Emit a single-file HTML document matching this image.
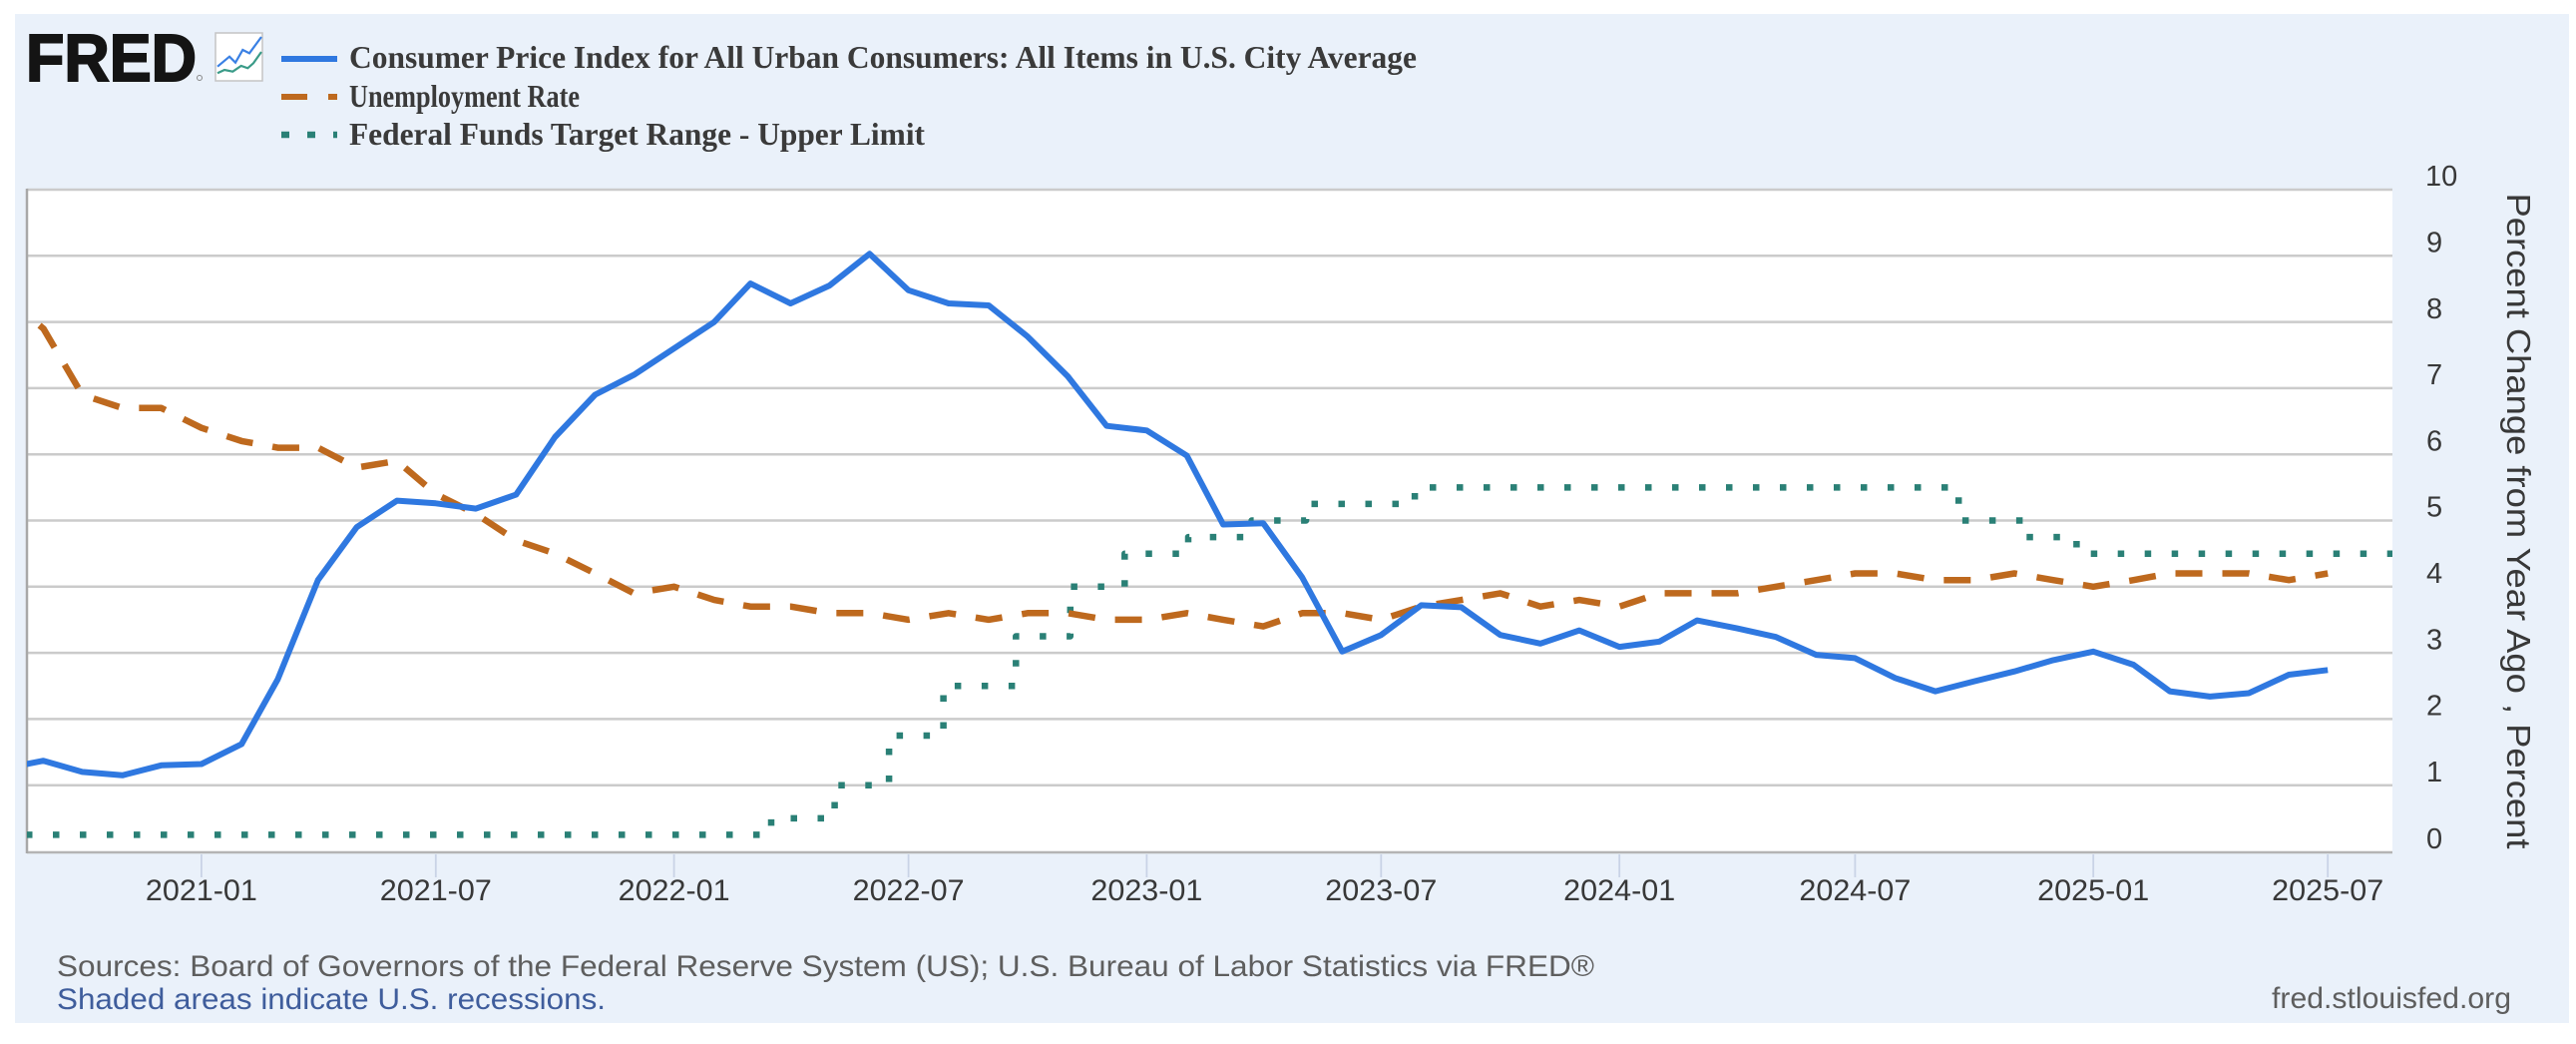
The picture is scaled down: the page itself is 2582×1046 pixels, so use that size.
<!DOCTYPE html>
<html>
<head>
<meta charset="utf-8">
<style>
  html, body { margin: 0; padding: 0; background: #ffffff; }
  body { width: 2582px; height: 1046px; overflow: hidden; }
  svg { display: block; }
</style>
</head>
<body>
<svg width="2582" height="1046" viewBox="0 0 2582 1046" xmlns="http://www.w3.org/2000/svg">
  <defs>
    <clipPath id="plotclip">
      <rect x="27" y="189" width="2371" height="666"/>
    </clipPath>
  </defs>

  <!-- background panel -->
  <rect x="15" y="14" width="2560" height="1011" fill="#eaf1fa"/>

  <!-- FRED logo -->
  <text x="26" y="81" font-family="Liberation Sans, sans-serif" font-weight="bold" font-size="67" fill="#141414" stroke="#141414" stroke-width="2" textLength="171" lengthAdjust="spacingAndGlyphs">FRED</text>
  <circle cx="200" cy="78" r="2.5" fill="none" stroke="#888" stroke-width="1"/>
  <!-- chart icon -->
  <rect x="216" y="33" width="47" height="48" fill="#ffffff" stroke="#c4c4c4" stroke-width="1.5"/>
  <polyline points="218,66.7 230,56.7 236,62.7 243.3,50 250,53.3 262,37" fill="none" stroke="#3a80e4" stroke-width="2.2"/>
  <polyline points="218,73.3 225,70 233.3,71.7 241.7,66 248.3,68.3 254,63.3 262,52" fill="none" stroke="#3a9b88" stroke-width="2.2"/>

  <!-- legend -->
  <line x1="282" y1="59" x2="338" y2="59" stroke="#2f78e0" stroke-width="6"/>
  <line x1="282" y1="97" x2="338" y2="97" stroke="#be691e" stroke-width="6" stroke-dasharray="26 21"/>
  <line x1="282" y1="135" x2="338" y2="135" stroke="#2a8076" stroke-width="6.5" stroke-dasharray="8 18"/>
  <g font-family="Liberation Serif, serif" font-weight="bold" font-size="32" fill="#3a3a3a">
    <text x="350" y="68" textLength="1070" lengthAdjust="spacingAndGlyphs">Consumer Price Index for All Urban Consumers: All Items in U.S. City Average</text>
    <text x="350" y="107" textLength="231" lengthAdjust="spacingAndGlyphs">Unemployment Rate</text>
    <text x="350" y="145" textLength="577" lengthAdjust="spacingAndGlyphs">Federal Funds Target Range - Upper Limit</text>
  </g>

  <!-- plot area -->
  <rect x="27" y="189" width="2371" height="666" fill="#ffffff"/>

  <!-- gridlines -->
  <g stroke="#cbcbcb" stroke-width="2.5">
    <line x1="27" y1="190" x2="2398" y2="190"/>
    <line x1="27" y1="256.3" x2="2398" y2="256.3"/>
    <line x1="27" y1="322.6" x2="2398" y2="322.6"/>
    <line x1="27" y1="388.9" x2="2398" y2="388.9"/>
    <line x1="27" y1="455.2" x2="2398" y2="455.2"/>
    <line x1="27" y1="521.5" x2="2398" y2="521.5"/>
    <line x1="27" y1="587.8" x2="2398" y2="587.8"/>
    <line x1="27" y1="654.1" x2="2398" y2="654.1"/>
    <line x1="27" y1="720.4" x2="2398" y2="720.4"/>
    <line x1="27" y1="786.7" x2="2398" y2="786.7"/>
  </g>
  <!-- axis lines -->
  <line x1="27" y1="854" x2="2398" y2="854" stroke="#b4b4b4" stroke-width="2.5"/>
  <line x1="27" y1="189" x2="27" y2="855" stroke="#a8a8a8" stroke-width="2.5"/>

  <!-- series -->
  <g clip-path="url(#plotclip)" fill="none" stroke-linejoin="round">
    <!-- Federal funds upper limit (dotted) -->
    <path d="M26,836.4 H773 V819.9 H836.6 V786.7 H891.1 V737 H945.6 V687.3 H1018.3 V637.5 H1072.8 V587.8 H1127.3 V554.7 H1191 V538.1 H1254.6 V521.5 H1309.1 V504.9 H1418.1 V488.4 H1963.2 V521.5 H2028.1 V538.1 H2081.4 V554.7 H2400"
      stroke="#2a8076" stroke-width="6.5" stroke-dasharray="6.5 20.5"/>
    <!-- Unemployment (dashed) -->
    <path d="M3.3,296.1 L43.5,329.2 L82.4,395.5 L122.7,408.8 L161.6,408.8 L201.9,428.7 L242.1,441.9 L278.4,448.6 L318.7,448.6 L357.6,468.5 L397.9,461.8 L436.8,495 L477,514.9 L517.3,541.4 L556.2,554.6 L596.5,574.5 L635.4,594.4 L675.6,587.8 L715.9,601.1 L752.2,607.7 L792.4,607.7 L831.4,614.3 L871.6,614.3 L910.6,620.9 L950.8,614.3 L991,620.9 L1030,614.3 L1070.2,614.3 L1109.2,620.9 L1149.4,620.9 L1189.6,614.3 L1226,620.9 L1266.2,627.6 L1305.2,614.3 L1345.4,614.3 L1384.3,620.9 L1424.6,607.7 L1464.8,601.1 L1503.8,594.4 L1544,607.7 L1583,601.1 L1623.2,607.7 L1663.4,594.4 L1701,594.4 L1741.3,594.4 L1780.2,587.8 L1820.5,581.2 L1859.4,574.5 L1899.6,574.5 L1939.9,581.2 L1978.8,581.2 L2019.1,574.5 L2058,581.2 L2098.2,587.8 L2138.5,581.2 L2174.8,574.5 L2215.1,574.5 L2254,574.5 L2294.2,581.2 L2333.2,574.5"
      stroke="#be691e" stroke-width="6.5" stroke-dasharray="27 20"/>
    <!-- CPI (solid) -->
    <path d="M3.3,770.1 L43.5,762.2 L82.4,773.4 L122.7,776.8 L161.6,766.8 L201.9,765.5 L242.1,745.6 L278.4,680.6 L318.7,581.2 L357.6,528.1 L397.9,501.6 L436.8,504.3 L477,509.6 L517.3,495.6 L556.2,438 L596.5,395.5 L635.4,375.6 L675.6,349.1 L715.9,322.6 L752.2,284.1 L792.4,304 L831.4,286.1 L871.6,254.3 L910.6,290.8 L950.8,304 L991,306 L1030,337.2 L1070.2,377 L1109.2,426.7 L1149.4,431.3 L1189.6,456.5 L1226,525.5 L1266.2,524.2 L1305.2,578.5 L1345.4,652.8 L1384.3,636.2 L1424.6,606.4 L1464.8,608.4 L1503.8,636.2 L1544,644.8 L1583,631.6 L1623.2,648.1 L1663.4,642.8 L1701,621.6 L1741.3,629.6 L1780.2,638.2 L1820.5,656.1 L1859.4,659.4 L1899.6,679.3 L1939.9,692.6 L1978.8,682.6 L2019.1,672.7 L2058,661.4 L2098.2,652.8 L2138.5,666 L2174.8,692.6 L2215.1,697.9 L2254,694.5 L2294.2,676 L2333.2,671.3"
      stroke="#2f78e0" stroke-width="6"/>
  </g>

  <!-- x ticks -->
  <g stroke="#c9d3e6" stroke-width="1.8">
    <line x1="201.9" y1="856" x2="201.9" y2="879"/>
    <line x1="436.8" y1="856" x2="436.8" y2="879"/>
    <line x1="675.6" y1="856" x2="675.6" y2="879"/>
    <line x1="910.6" y1="856" x2="910.6" y2="879"/>
    <line x1="1149.4" y1="856" x2="1149.4" y2="879"/>
    <line x1="1384.3" y1="856" x2="1384.3" y2="879"/>
    <line x1="1623.2" y1="856" x2="1623.2" y2="879"/>
    <line x1="1859.4" y1="856" x2="1859.4" y2="879"/>
    <line x1="2098.2" y1="856" x2="2098.2" y2="879"/>
    <line x1="2333.2" y1="856" x2="2333.2" y2="879"/>
  </g>
  <g font-family="Liberation Sans, sans-serif" font-size="30" fill="#383838" text-anchor="middle">
    <text x="201.9" y="902" textLength="112" lengthAdjust="spacingAndGlyphs">2021-01</text>
    <text x="436.8" y="902" textLength="112" lengthAdjust="spacingAndGlyphs">2021-07</text>
    <text x="675.6" y="902" textLength="112" lengthAdjust="spacingAndGlyphs">2022-01</text>
    <text x="910.6" y="902" textLength="112" lengthAdjust="spacingAndGlyphs">2022-07</text>
    <text x="1149.4" y="902" textLength="112" lengthAdjust="spacingAndGlyphs">2023-01</text>
    <text x="1384.3" y="902" textLength="112" lengthAdjust="spacingAndGlyphs">2023-07</text>
    <text x="1623.2" y="902" textLength="112" lengthAdjust="spacingAndGlyphs">2024-01</text>
    <text x="1859.4" y="902" textLength="112" lengthAdjust="spacingAndGlyphs">2024-07</text>
    <text x="2098.2" y="902" textLength="112" lengthAdjust="spacingAndGlyphs">2025-01</text>
    <text x="2333.2" y="902" textLength="112" lengthAdjust="spacingAndGlyphs">2025-07</text>
  </g>

  <!-- y labels -->
  <g font-family="Liberation Sans, sans-serif" font-size="29" fill="#383838">
    <text x="2431" y="186">10</text>
    <text x="2432" y="252.5">9</text>
    <text x="2432" y="318.8">8</text>
    <text x="2432" y="385.1">7</text>
    <text x="2432" y="451.4">6</text>
    <text x="2432" y="517.7">5</text>
    <text x="2432" y="584">4</text>
    <text x="2432" y="650.3">3</text>
    <text x="2432" y="716.6">2</text>
    <text x="2432" y="782.9">1</text>
    <text x="2432" y="850">0</text>
  </g>

  <!-- y axis title -->
  <text transform="translate(2513,522) rotate(90)" x="0" y="0" text-anchor="middle" font-family="Liberation Sans, sans-serif" font-size="33" fill="#383838" textLength="657" lengthAdjust="spacingAndGlyphs">Percent Change from Year Ago , Percent</text>

  <!-- footer -->
  <text x="57" y="978" font-family="Liberation Sans, sans-serif" font-size="30" fill="#5e5e5e" textLength="1541" lengthAdjust="spacingAndGlyphs">Sources: Board of Governors of the Federal Reserve System (US); U.S. Bureau of Labor Statistics via FRED®</text>
  <text x="57" y="1011" font-family="Liberation Sans, sans-serif" font-size="30" fill="#3f5d9c" textLength="550" lengthAdjust="spacingAndGlyphs">Shaded areas indicate U.S. recessions.</text>
  <text x="2517" y="1010" text-anchor="end" font-family="Liberation Sans, sans-serif" font-size="30" fill="#5e5e5e" textLength="240" lengthAdjust="spacingAndGlyphs">fred.stlouisfed.org</text>
</svg>
</body>
</html>
